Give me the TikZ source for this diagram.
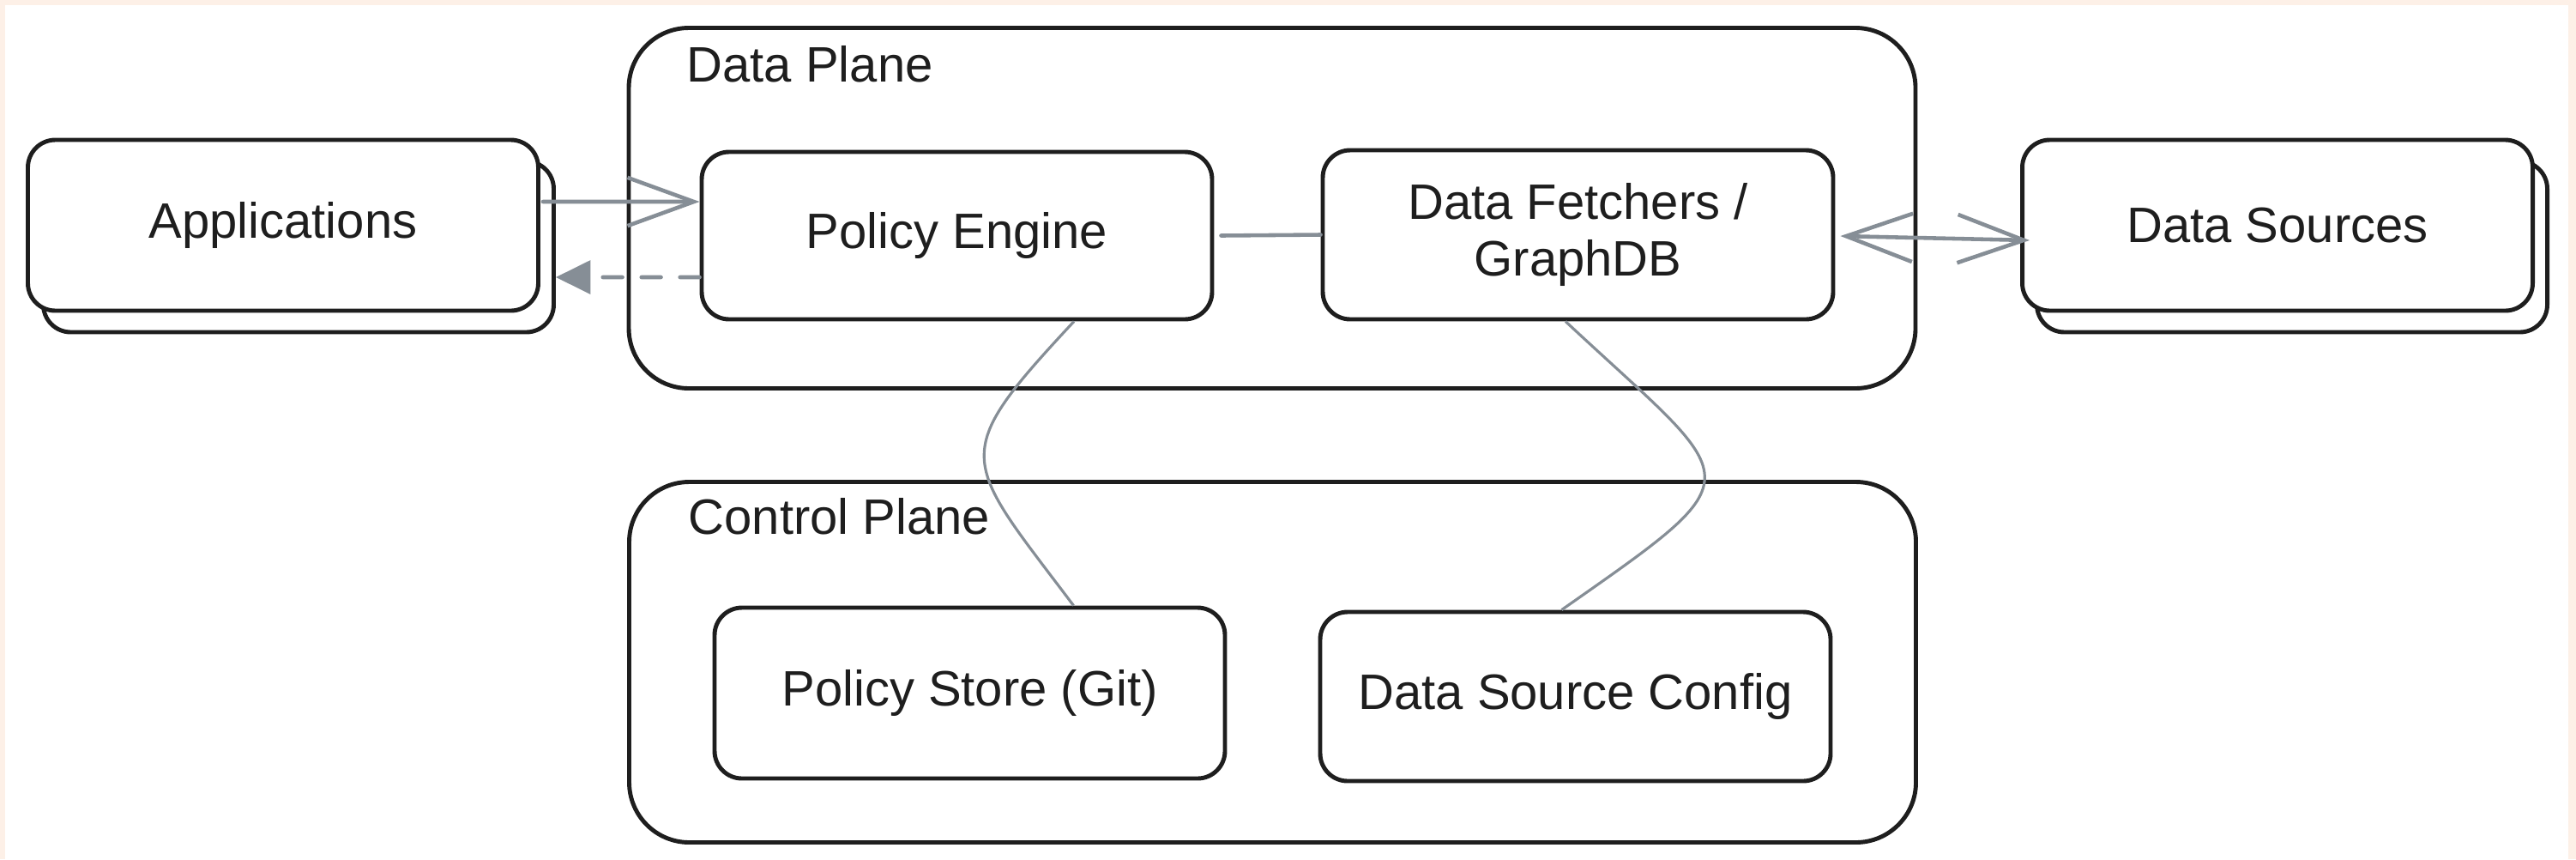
\documentclass[tikz,border=0pt]{standalone}
\usepackage{fontspec}
\setmainfont{Liberation Sans}
\usetikzlibrary{arrows.meta}
\definecolor{peach}{RGB}{253,240,231}
\definecolor{ink}{RGB}{30,30,30}
\definecolor{wire}{RGB}{134,142,150}
\begin{document}
\begin{tikzpicture}[
  box/.style={draw=ink, line width=1.4pt, fill=white, rounded corners=0.32cm,
    minimum width=5.95cm, minimum height=1.97cm, inner sep=0pt, align=center,
    font=\fontsize{16.5}{19}\selectfont, text=ink},
  plane/.style={draw=ink, line width=1.4pt, rounded corners=0.7cm,
    minimum width=15cm, minimum height=4.2cm, inner sep=0pt},
  lbl/.style={anchor=base west, inner sep=0pt, font=\fontsize{16.5}{19}\selectfont, text=ink},
  wirearrow/.style={draw=wire, line width=1.3pt, line cap=round},
  link/.style={draw=wire, line width=0.9pt},
  openhead/.style={arrows={-Straight Barb[length=22pt,width=16pt]}},
  twohead/.style={arrows={Straight Barb[length=22pt,width=16pt]-Straight Barb[length=22pt,width=16pt]}},
  fillhead/.style={arrows={-Triangle[length=11.5pt,width=11pt]}}
]
\fill[peach] (0,0) rectangle (30.03,-10.01);
\fill[white] (0.06,-0.06) rectangle (29.94,-10.01);
\useasboundingbox (0,0) rectangle (30.03,-10.01);

% planes
\node[plane] (dp) at (14.83,-2.425) {};
\node[plane] (cp) at (14.835,-7.715) {};
\node[lbl] (dpl) at (8.00,-0.95) {Data Plane};
\node[lbl] (cpl) at (8.02,-6.22) {Control Plane};

% stacked boxes
\node[box, minimum height=1.99cm] (appb) at (3.48,-2.875) {};
\node[box, minimum height=1.99cm] (app) at (3.30,-2.625) {Applications};
\node[box, minimum height=1.99cm] (dsb) at (26.72,-2.875) {};
\node[box, minimum height=1.99cm] (ds) at (26.55,-2.625) {Data Sources};

% inner boxes
\node[box, minimum height=1.95cm] (pe) at (11.155,-2.745) {Policy Engine};
\node[box] (df) at (18.395,-2.735) {Data Fetchers /\\GraphDB};
\node[box, minimum height=1.99cm] (ps) at (11.305,-8.075) {Policy Store (Git)};
\node[box] (dsc) at (18.365,-8.115) {Data Source Config};

% connectors
\draw[wirearrow, openhead] ([xshift=0.03cm,yshift=0.275cm]app.east) -- ([yshift=0.395cm]pe.west);
\draw[wirearrow, fillhead, dash pattern=on 6.5pt off 6.3pt] ([yshift=-0.485cm]pe.west) -- ([yshift=-0.355cm]appb.east);
\draw[wirearrow] ([xshift=0.08cm]pe.east) -- (df.west);
\draw[wirearrow, twohead] ([xshift=0.06cm,yshift=-0.015cm]df.east) -- ([xshift=0.11cm,yshift=-0.175cm]ds.west);
\draw[link] ([xshift=1.365cm]pe.south) to[out=227,in=127,looseness=1.68] ([xshift=1.21cm]ps.north);
\draw[link] ([xshift=-0.145cm]df.south) to[out=317,in=35,looseness=2.15] ([xshift=-0.16cm]dsc.north);
\end{tikzpicture}
\end{document}
